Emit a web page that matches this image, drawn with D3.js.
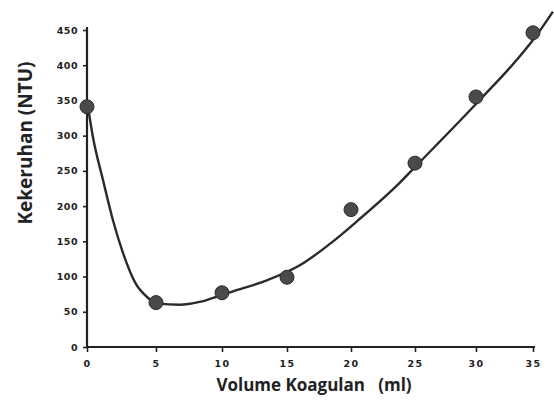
<!DOCTYPE html>
<html>
<head>
<meta charset="utf-8">
<script src="https://cdn.jsdelivr.net/npm/d3@7"></script>
<style>
  body { margin: 0; background: #fff; }
  svg { display: block; }
  .tick-label { font-family: "DejaVu Sans", sans-serif; font-weight: bold; font-size: 9.5px; fill: #222; }
  .title { font-family: "Open Sans", sans-serif; font-weight: bold; fill: #222; white-space: pre; }
</style>
</head>
<body>
<svg width="554" height="414"></svg>
<script>
// data
var volume = [0, 5, 10, 15, 20, 25, 30, 35];
var kekeruhan = [341, 63, 77, 99, 195, 261, 355, 446];

// hand drawn trend line (approx. points along it)
var curveX = [0.07, 0.43, 1.16, 1.88, 2.6, 3.5, 4.35, 5.08, 6.8, 8.3, 10, 10.85, 13.5, 16, 18.6, 20.5, 23.8, 25.2, 30.35, 33.6, 35.2, 36.75];
var curveY = [341, 298, 237, 180, 134, 91, 71, 62, 60, 64, 74, 79, 95, 116, 150, 179, 233, 259, 351, 408, 440, 476];

var xTicks = [0, 5, 10, 15, 20, 25, 30, 35];
var yTicks = [0, 50, 100, 150, 200, 250, 300, 350, 400, 450];

var svg = d3.select("svg");

// the x ticks are not evenly spaced in the original scan
var x = d3.scaleLinear()
    .domain(xTicks)
    .range([87, 156, 222, 287, 351, 415, 476, 533]);

var y = d3.scaleLinear()
    .domain([0, 450])
    .range([347, 30]);

// axes
var xAxis = svg.append("g")
    .attr("transform", "translate(0," + y(0) + ")")
    .call(d3.axisBottom(x).tickValues(xTicks).tickSize(5).tickSizeOuter(0).tickFormat(d3.format("d")));

var yAxis = svg.append("g")
    .attr("transform", "translate(" + x(0) + ",0)")
    .call(d3.axisLeft(y).tickValues(yTicks).tickSize(4).tickSizeOuter(0));

[xAxis, yAxis].forEach(function(a) {
    a.select(".domain").attr("stroke", "#222").attr("stroke-width", 2.2);
    a.selectAll(".tick line").attr("stroke", "#222").attr("stroke-width", 1.6);
    a.selectAll(".tick text").attr("class", "tick-label").attr("fill", null);
});
xAxis.select(".domain").attr("d", "M" + x(0) + ",0H" + (x(35) + 2));
yAxis.select(".domain").attr("d", "M0," + (y(450) - 3) + "V" + (y(0) + 1));
xAxis.selectAll(".tick text").attr("dy", "1.3em").style("letter-spacing", "1.5px");
yAxis.selectAll(".tick text").attr("x", -9).style("letter-spacing", "0.5px");

// the curve
var line = d3.line()
    .x(function(d) { return x(d[0]); })
    .y(function(d) { return y(d[1]); })
    .curve(d3.curveMonotoneX);

svg.append("path")
    .datum(d3.zip(curveX, curveY))
    .attr("d", line)
    .attr("fill", "none")
    .attr("stroke", "#2a2a2a")
    .attr("stroke-width", 2.4);

// points
svg.selectAll(".dot")
    .data(d3.zip(volume, kekeruhan))
    .enter().append("circle")
    .attr("class", "dot")
    .attr("cx", function(d) { return x(d[0]); })
    .attr("cy", function(d) { return y(d[1]); })
    .attr("r", 7)
    .attr("fill", "#4a4a4a")
    .attr("stroke", "#2a2a2a")
    .attr("stroke-width", 1);

// titles
svg.append("text")
    .attr("class", "title")
    .attr("x", 314)
    .attr("y", 391)
    .attr("text-anchor", "middle")
    .style("font-size", "17px")
    .text("Volume Koagulan   (ml)");

svg.append("text")
    .attr("class", "title")
    .attr("transform", "translate(32,143) rotate(-90)")
    .attr("text-anchor", "middle")
    .style("font-size", "19px")
    .text("Kekeruhan (NTU)");
</script>
</body>
</html>
